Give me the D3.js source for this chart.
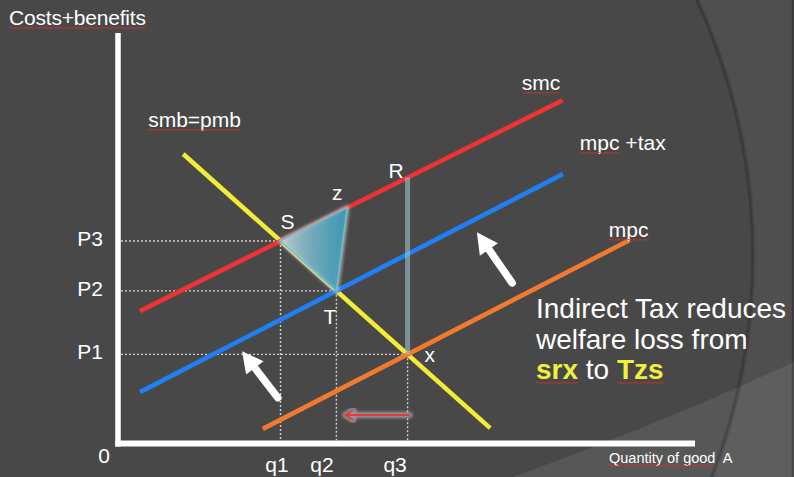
<!DOCTYPE html>
<html>
<head>
<meta charset="utf-8">
<script src="https://cdn.jsdelivr.net/npm/d3@7"></script>
<style>
  html, body { margin: 0; padding: 0; background: #484848; overflow: hidden; }
  svg { display: block; }
  text { font-family: "Liberation Sans", Arial, Helvetica, sans-serif; fill: #ffffff; }
</style>
</head>
<body>
<svg id="chart" width="794" height="477"></svg>
<script>
// ---- Curves: endpoints as [quantity, cost] in chart units ----
const curveNames  = ["smb=pmb", "smc", "mpc +tax", "mpc"];
const curveColors = ["#f3ec37", "#ee3432", "#1f80f3", "#f07a2e"];
const curveStarts = [[1.13, 7.04], [0.38, 3.20], [0.38, 1.22], [2.51, 0.32]];
const curveEnds   = [[6.45, 0.34], [7.71, 8.36], [7.71, 6.55], [8.87, 4.94]];

// ---- Axis / point labels ----
const priceLabels    = ["P3", "P2", "P1"];
const quantityLabels = ["q1", "q2", "q3"];
const zQuantity = 3.97;          // corner z of the welfare-loss triangle, on smc

// ---- Shift arrows: [tail, tip] in chart units ----
const shiftArrows = [
  [[2.77, 1.08], [2.15, 2.22]],
  [[6.83, 3.89], [6.22, 5.13]]
];
const quantityArrowCost = 0.66;  // height of the q3 -> q2 arrow

// ---- Caption ----
const captionLines = [
  [{ t: "Indirect Tax reduces", hl: false }],
  [{ t: "welfare loss from", hl: false }],
  [{ t: "srx", hl: true }, { t: " to ", hl: false }, { t: "Tzs", hl: true }]
];

const W = 794, H = 477;
const svg = d3.select("#chart");
const x = d3.scaleLinear().domain([0, 10]).range([118, 695]);
const y = d3.scaleLinear().domain([0, 10]).range([442, 33]);

const defs = svg.append("defs");
defs.append("filter").attr("id", "soft").attr("x", "-20%").attr("y", "-20%").attr("width", "140%").attr("height", "140%")
  .append("feGaussianBlur").attr("stdDeviation", 1.6);
defs.append("filter").attr("id", "edge")
  .append("feGaussianBlur").attr("stdDeviation", 0.8);

// ---- Background ----
svg.append("rect").attr("width", W).attr("height", H).attr("fill", "#484848");
const cx0 = 138, cy0 = 256, r0 = 615;
const circlePath = `M${cx0 - r0},${cy0}a${r0},${r0} 0 1,0 ${2 * r0},0a${r0},${r0} 0 1,0 ${-2 * r0},0Z`;
svg.append("path")
  .attr("d", `M0,0H${W}V${H}H0Z` + circlePath)
  .attr("fill-rule", "evenodd").attr("fill", "#4f4f4f");
svg.append("path")
  .attr("d", `M513,${H}Q660,424 ${W},362L${W},${H}Z`)
  .attr("fill", "rgba(255,255,255,0.085)");
svg.append("circle").attr("cx", cx0).attr("cy", cy0).attr("r", r0)
  .attr("fill", "none").attr("stroke", "rgba(0,0,0,0.35)").attr("stroke-width", 2.2)
  .attr("filter", "url(#edge)");
svg.append("line").attr("x1", 792.5).attr("x2", 792.5).attr("y1", 0).attr("y2", H)
  .attr("stroke", "rgba(0,0,0,0.3)").attr("stroke-width", 1.5);

// ---- Helpers ----
function intersect(i, j) {
  const [a, b] = [curveStarts[i], curveEnds[i]];
  const [c, d] = [curveStarts[j], curveEnds[j]];
  const r = [b[0] - a[0], b[1] - a[1]], s = [d[0] - c[0], d[1] - c[1]];
  const den = r[0] * s[1] - r[1] * s[0];
  const t = ((c[0] - a[0]) * s[1] - (c[1] - a[1]) * s[0]) / den;
  return [a[0] + t * r[0], a[1] + t * r[1]];
}
function costOn(i, q) {
  const [a, b] = [curveStarts[i], curveEnds[i]];
  return a[1] + (q - a[0]) * (b[1] - a[1]) / (b[0] - a[0]);
}
function squiggle(x0, x1, yb) {
  let d = `M${x0},${yb}`, up = true;
  for (let xx = x0 + 1.5; xx <= x1; xx += 1.5) { d += `L${xx},${yb + (up ? -1 : 0.6)}`; up = !up; }
  svg.append("path").attr("d", d).attr("fill", "none")
    .attr("stroke", "#d8302c").attr("stroke-width", 0.9);
}

const S = intersect(0, 1), T = intersect(0, 2), X = intersect(0, 3);
const Z = [zQuantity, costOn(1, zQuantity)];
const R = [X[0], costOn(1, X[0])];
const priceValues = [S[1], T[1], X[1]];
const quantityValues = [S[0], T[0], X[0]];

// ---- Axes ----
const yAxis = svg.append("g").attr("transform", `translate(${x(0)},0)`)
  .call(d3.axisLeft(y).tickValues(priceValues).tickFormat((d, i) => priceLabels[i]).tickSize(0).tickPadding(15));
yAxis.select(".domain").remove();
yAxis.selectAll("text").attr("font-size", 21).attr("dy", "0.22em")
  .style("font-family", '"Liberation Sans", Arial, sans-serif').attr("fill", "#fff");

// quantity labels sit just left of their guide lines
const qLabelShift = [-4, -15, -13];
const xAxis = svg.append("g").attr("transform", `translate(0,${y(0)})`)
  .call(d3.axisBottom(x).tickValues(quantityValues).tickFormat((d, i) => quantityLabels[i]).tickSize(0));
xAxis.select(".domain").remove();
xAxis.selectAll("text").attr("font-size", 21).attr("y", 0).attr("dy", 30)
  .attr("text-anchor", "middle").attr("dx", (d, i) => qLabelShift[i])
  .style("font-family", '"Liberation Sans", Arial, sans-serif').attr("fill", "#fff");

svg.append("line").attr("x1", x(0)).attr("x2", x(0)).attr("y1", y(10)).attr("y2", y(0) + 4.5)
  .attr("stroke", "#fff").attr("stroke-width", 5.5);
svg.append("line").attr("x1", x(0) - 2.7).attr("x2", x(10)).attr("y1", y(0) + 1.5).attr("y2", y(0) + 1.5)
  .attr("stroke", "#fff").attr("stroke-width", 6);

svg.append("text").attr("x", x(0) - 8).attr("y", y(0) + 21).attr("text-anchor", "end")
  .attr("font-size", 21).text("0");

const title = svg.append("text").attr("x", 9).attr("y", 25).attr("font-size", 21)
  .attr("letter-spacing", -0.2).text("Costs+benefits");
squiggle(9, 9 + title.node().getComputedTextLength(), 28);

const qTitle = svg.append("text").attr("x", 609).attr("y", 463).attr("font-size", 14.5)
  .style("white-space", "pre").text("Quantity of good  A");
squiggle(609, 609 + qTitle.node().getSubStringLength(0, 16), 466);

// ---- Dotted guides ----
const guide = svg.append("g").attr("stroke", "#cfcfcf").attr("stroke-width", 1.4)
  .attr("stroke-dasharray", "2,2").attr("fill", "none");
[S, T, X].forEach(p => {
  guide.append("line").attr("x1", x(0) + 3).attr("x2", x(p[0])).attr("y1", y(p[1])).attr("y2", y(p[1]));
  guide.append("line").attr("x1", x(p[0])).attr("x2", x(p[0])).attr("y1", y(p[1])).attr("y2", y(0) - 1.5);
});

// ---- Curves ----
svg.append("g").selectAll("line").data(curveNames).join("line")
  .attr("x1", (d, i) => x(curveStarts[i][0])).attr("y1", (d, i) => y(curveStarts[i][1]))
  .attr("x2", (d, i) => x(curveEnds[i][0])).attr("y2", (d, i) => y(curveEnds[i][1]))
  .attr("stroke", (d, i) => curveColors[i]).attr("stroke-width", 4.6);

// Curve name labels, placed off each curve's end
const nameAnchor = [curveStarts[0], curveEnds[1], curveEnds[2], curveEnds[3]];
const nameOffset = [[-35, -27], [-41, -10], [17, -24], [-21, -3]];
curveNames.forEach((n, i) => {
  const px = x(nameAnchor[i][0]) + nameOffset[i][0];
  const py = y(nameAnchor[i][1]) + nameOffset[i][1];
  const t = svg.append("text").attr("x", px).attr("y", py).attr("font-size", 21).text(n);
  const k = n.indexOf(" ") > 0 ? n.indexOf(" ") : n.length;
  squiggle(px, px + t.node().getSubStringLength(0, k), py + 3);
});

// ---- Welfare loss triangle S-z-T ----
const grad = defs.append("linearGradient").attr("id", "triFill").attr("gradientUnits", "userSpaceOnUse")
  .attr("x1", x(S[0])).attr("y1", y(S[1])).attr("x2", x(Z[0])).attr("y2", y(S[1]));
grad.append("stop").attr("offset", 0).attr("stop-color", "#c3d3d8");
grad.append("stop").attr("offset", 0.45).attr("stop-color", "#79b2c4");
grad.append("stop").attr("offset", 1).attr("stop-color", "#3a9cba");
const tri = [S, Z, T].map(p => [x(p[0]), y(p[1])]);
svg.append("polygon").attr("points", tri.join(" "))
  .attr("fill", "none").attr("stroke", "rgba(190,190,190,0.75)").attr("stroke-width", 5)
  .attr("stroke-linejoin", "round").attr("filter", "url(#soft)");
svg.append("polygon").attr("points", tri.join(" "))
  .attr("fill", "url(#triFill)").attr("fill-opacity", 0.92)
  .attr("stroke", "#6fc0d4").attr("stroke-width", 1.3);

// ---- Welfare loss bar R-x at q3 ----
svg.append("line").attr("x1", x(R[0])).attr("x2", x(R[0])).attr("y1", y(R[1])).attr("y2", y(X[1]))
  .attr("stroke", "#bcd3da").attr("stroke-opacity", 0.35).attr("stroke-width", 8).attr("filter", "url(#edge)");
svg.append("line").attr("x1", x(R[0])).attr("x2", x(R[0])).attr("y1", y(R[1])).attr("y2", y(X[1]))
  .attr("stroke", "#9fc4d0").attr("stroke-opacity", 0.6).attr("stroke-width", 5);

// ---- q3 -> q2 arrow ----
const ax1 = x(X[0]) + 2, ax2 = x(T[0]) + 9, ay = y(quantityArrowCost);
const redArrow = `M${ax1},${ay}H${ax2}M${ax2 + 8},${ay - 5}L${ax2},${ay}L${ax2 + 8},${ay + 5}`;
svg.append("path").attr("d", redArrow).attr("fill", "none")
  .attr("stroke", "rgba(185,185,185,0.7)").attr("stroke-width", 6).attr("stroke-linejoin", "round")
  .attr("stroke-linecap", "round").attr("filter", "url(#soft)");
svg.append("path").attr("d", redArrow).attr("fill", "none")
  .attr("stroke", "#e53a3a").attr("stroke-width", 2).attr("stroke-linejoin", "round");

// ---- White shift arrows ----
shiftArrows.forEach(([tail, tip]) => {
  const t0 = [x(tail[0]), y(tail[1])], t1 = [x(tip[0]), y(tip[1])];
  const len = Math.hypot(t1[0] - t0[0], t1[1] - t0[1]);
  const u = [(t1[0] - t0[0]) / len, (t1[1] - t0[1]) / len], nrm = [-u[1], u[0]];
  const head = 21, half = 11;
  const base = [t1[0] - u[0] * head, t1[1] - u[1] * head];
  svg.append("line").attr("x1", t0[0]).attr("y1", t0[1])
    .attr("x2", base[0] + u[0] * 3).attr("y2", base[1] + u[1] * 3)
    .attr("stroke", "#fff").attr("stroke-width", 7.5).attr("stroke-linecap", "round");
  svg.append("polygon").attr("fill", "#fff").attr("points", [
    t1, [base[0] + nrm[0] * half, base[1] + nrm[1] * half], [base[0] - nrm[0] * half, base[1] - nrm[1] * half]
  ].join(" "));
});

// ---- Point labels ----
const pointMarks = [["S", S, 0, -12], ["z", Z, -15, -8], ["T", T, -13, 33], ["R", R, -19, 0], ["x", X, 17, 8]];
pointMarks.forEach(([lab, p, dx, dy]) => {
  svg.append("text").attr("x", x(p[0]) + dx).attr("y", y(p[1]) + dy).attr("font-size", 21).text(lab);
});

// ---- Caption ----
captionLines.forEach((line, li) => {
  const by = 318 + li * 30.5;
  const t = svg.append("text").attr("x", 536).attr("y", by).attr("font-size", 28).style("white-space", "pre");
  line.forEach(seg => {
    t.append("tspan").text(seg.t)
      .attr("font-weight", seg.hl ? "bold" : "normal")
      .attr("fill", seg.hl ? "#f1ee3c" : "#ffffff");
  });
  let off = 0;
  t.selectAll("tspan").each(function (d, k) {
    const w = this.getComputedTextLength();
    if (line[k].hl) squiggle(536 + off, 536 + off + w, by + 4);
    off += w;
  });
});
</script>
</body>
</html>
